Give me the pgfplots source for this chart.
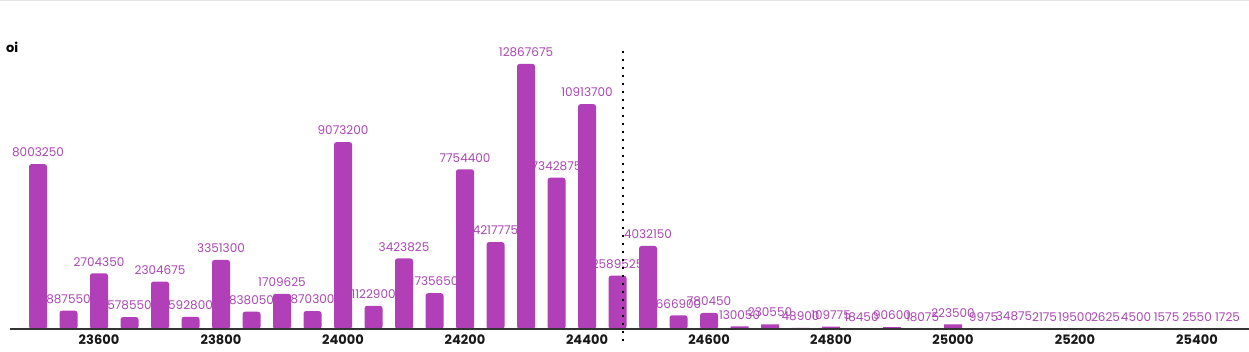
\documentclass[border=0pt]{standalone}
\usepackage{fontspec}
\setmainfont{Poppins}
\usepackage{pgfplots}
\usepackage{pgfplotstable}
\pgfplotsset{compat=1.18}
\definecolor{barpurple}{HTML}{B03FB8}
\definecolor{labpurple}{HTML}{A946B3}
\definecolor{gridgray}{HTML}{CFCFCF}
\pgfplotstableread{
x y
23500 8003250
23550 887550
23600 2704350
23650 578550
23700 2304675
23750 592800
23800 3351300
23850 838050
23900 1709625
23950 870300
24000 9073200
24050 1122900
24100 3423825
24150 1735650
24200 7754400
24250 4217775
24300 12867675
24350 7342875
24400 10913700
24450 2589525
24500 4032150
24550 666900
24600 780450
24650 130050
24700 230550
24750 48900
24800 109775
24850 18450
24900 90600
24950 18075
25000 223500
25050 9975
25100 34875
25150 2175
25200 19500
25250 2625
25300 4500
25350 1575
25400 2550
25450 1725
}\oidata
\pgfplotsset{
  common/.style={
    at={(0,0)}, anchor=south west,
    scale only axis, width=1239pt, height=279pt,
    xmin=23454.1, xmax=25485.2,
    ymin=0, ymax=13544000,
    enlargelimits=false,
    ybar, clip=false,
    scaled x ticks=false, scaled y ticks=false,
    major tick length=0pt,
  }
}
\begin{document}
\begin{tikzpicture}
\useasboundingbox (-10pt,-22pt) rectangle (1239pt,329pt);
\draw[line width=1pt, black!10] (-10pt,328.5pt) -- (1239pt,328.5pt);
% axis 1: grid, ticks, labels
\begin{axis}[
  common,
  axis x line=bottom, axis y line=none,
  axis line style={-, draw=black!80, line width=1.6pt},
  xtick={23600,23800,...,25400},
  xticklabel style={font=\fontsize{13}{15}\selectfont\bfseries, text=black!90, anchor=north, inner sep=0pt, yshift=-6pt, /pgf/number format/1000 sep={}, /pgf/number format/assume math mode=true},
  ytick={2500000,5000000,7500000,10000000,12500000},
  yticklabels={},
  ymajorgrids,
  grid style={draw=gridgray, line width=0.8pt, dash pattern=on 1pt off 3pt},
]
\addplot[draw=none, fill=none, bar shift=0pt, bar width=18pt,
  point meta=explicit symbolic,
  nodes near coords,
  every node near coord/.append style={font=\fontsize{12}{14}\selectfont, text=labpurple, anchor=south, inner sep=0pt, yshift=7pt}]
  table[x=x, y=y, meta=y] {\oidata};
\end{axis}
% axis 2: bars on top of labels
\begin{axis}[
  common,
  axis lines=none,
  xtick=\empty, ytick=\empty,
]
\addplot[draw=none, fill=barpurple, bar shift=0pt, bar width=18pt, rounded corners=2.5pt,
  restrict y to domain=250000:20000000]
  table[x=x, y=y] {\oidata};
\addplot[draw=none, fill=barpurple, bar shift=0pt, bar width=18pt,
  restrict y to domain=0:250000]
  table[x=x, y=y] {\oidata};
\draw[black!80, line width=1.6pt] (axis cs:23454.1,0) -- (axis cs:25485.2,0);
\draw[black, line width=1.8pt, dash pattern=on 1.8pt off 6.2pt]
  (axis cs:24459,13480000) -- (axis cs:24459,-800000);
\end{axis}
\node[anchor=base west, inner sep=0pt, font=\fontsize{13}{15}\selectfont\bfseries] at (-4pt,276.7pt) {oi};
\end{tikzpicture}
\end{document}
